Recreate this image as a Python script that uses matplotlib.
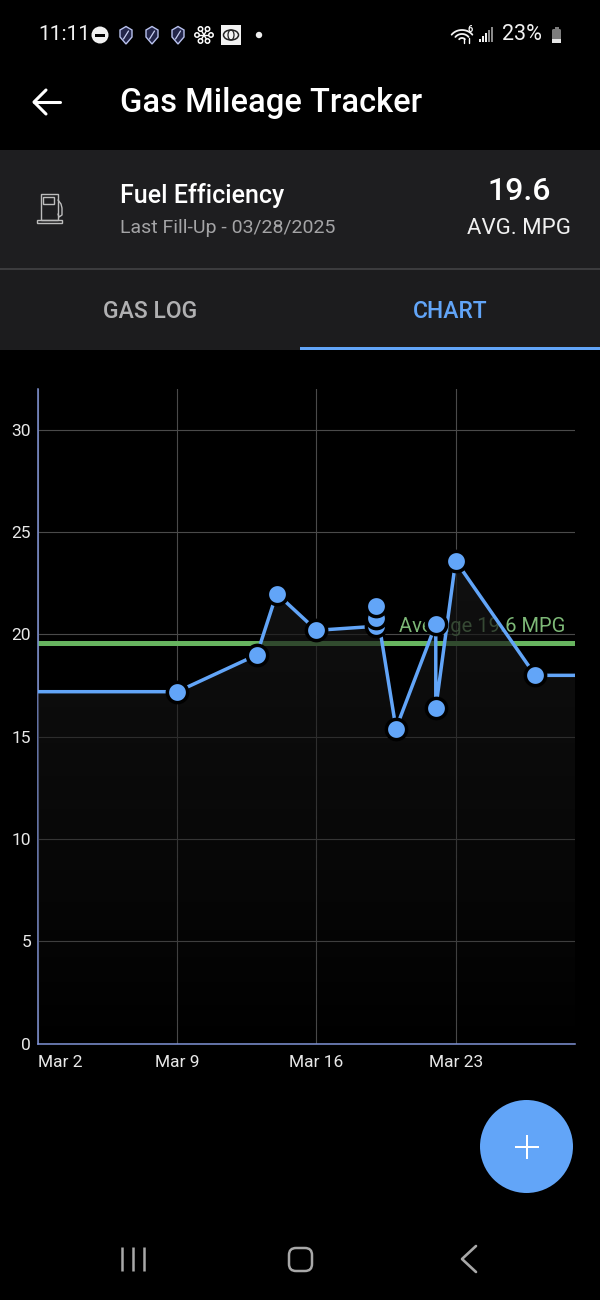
import matplotlib
matplotlib.use("Agg")
import matplotlib.pyplot as plt
import matplotlib.dates as mdates
import numpy as np
import pandas as pd
from matplotlib.patches import Circle, Rectangle, FancyBboxPatch, Polygon, RegularPolygon
from matplotlib.lines import Line2D

# ---- data ----
fill_dates = ["2025-03-02", "2025-03-09", "2025-03-13", "2025-03-14", "2025-03-16",
              "2025-03-19", "2025-03-19", "2025-03-19", "2025-03-20", "2025-03-22",
              "2025-03-22", "2025-03-23", "2025-03-27", "2025-03-29"]
mpg = [17.2, 17.2, 19.0, 22.0, 20.2, 20.4, 20.8, 21.4, 15.4, 20.5, 16.4, 23.6, 18.0, 18.0]
average_mpg = 19.6
y_ticks = [0, 5, 10, 15, 20, 25, 30]
x_tick_dates = ["2025-03-02", "2025-03-09", "2025-03-16", "2025-03-23"]
x_tick_labels = ["Mar 2", "Mar 9", "Mar 16", "Mar 23"]
marker_slice = (1, -1)   # first and last entries continue off-screen, no marker

plt.rcParams['font.family'] = ['Roboto', 'DejaVu Sans']
BLUE = "#62a5f8"
fig = plt.figure(figsize=(6, 13), dpi=100, facecolor="black")

# ---- phone UI layer in pixel coordinates ----
ui = fig.add_axes([0, 0, 1, 1], zorder=1)
ui.set_xlim(0, 600); ui.set_ylim(1300, 0); ui.axis("off")

def T(x, y, s, size, color="white", ha="left", weight="normal", **k):
    return ui.text(x, y, s, fontsize=size, color=color, ha=ha, va="center", fontweight=weight, **k)

def L(xs, ys, color="white", lw=1.5, **k):
    ui.add_line(Line2D(xs, ys, color=color, lw=lw, solid_capstyle=k.pop("cap", "round"),
                       solid_joinstyle="round", **k))

# panels
ui.add_patch(Rectangle((0, 150), 600, 118, fc="#1e1e20", ec="none"))
ui.add_patch(Rectangle((0, 268), 600, 2, fc="#3c3c3e", ec="none"))
ui.add_patch(Rectangle((0, 270), 600, 80, fc="#1c1c1e", ec="none"))
ui.add_patch(Rectangle((300, 347), 300, 3, fc=BLUE, ec="none"))

# status bar
T(38, 35, "11:11", 15, color="#f2f2f2")
ui.add_patch(Circle((100, 35), 8.5, fc="#f0f0f0", ec="none"))
ui.add_patch(Rectangle((95, 33.5), 10, 3, fc="black", ec="none"))
for sx in (126, 152, 178):
    ui.add_patch(Polygon([(sx-6, 30), (sx, 26.5), (sx+6, 30), (sx+6, 37), (sx, 44), (sx-6, 37)],
                         closed=True, fc="#23264a", ec="#b9c2ee", lw=1))
    L([sx-2.5, sx+2.5], [39, 31], color="#c8cff2", lw=0.9)
cx, cy = 204, 35
for dx, dy in [(-7, 0), (7, 0), (-3.5, -6), (3.5, -6), (-3.5, 6), (3.5, 6)]:
    L([cx, cx+dx], [cy, cy+dy], color="white", lw=1)
    ui.add_patch(Circle((cx+dx, cy+dy), 2.2, fc="black", ec="white", lw=1.1, zorder=4))
ui.add_patch(Rectangle((221, 25), 20, 20, fc="#f2f2f2", ec="none"))
ui.add_patch(matplotlib.patches.Ellipse((231, 35), 15, 10, fc="none", ec="#222", lw=1.1))
ui.add_patch(matplotlib.patches.Ellipse((231, 35), 6, 10, fc="none", ec="#222", lw=0.9))
ui.add_patch(Circle((259, 35), 3.2, fc="#eeeeee", ec="none"))

# wifi / signal / battery
th = np.linspace(np.radians(215), np.radians(325), 20)
for r in (3, 7, 11):
    L(462 + r*1.15*np.cos(th)-0, 41 + r*np.sin(th), color="#f2f2f2", lw=1.3)
T(467, 30, "6", 6.5, weight="bold")
L([464, 464], [38, 43], lw=1); L([469, 469], [38, 43], lw=1)
for i, h in enumerate((3, 6, 9, 12, 15)):
    ui.add_patch(Rectangle((479 + i*3, 42-h), 2, h, fc="#f0f0f0" if i < 3 else "#8a8a8a", ec="none"))
T(502, 35, "23%", 15.5, color="#f2f2f2")
ui.add_patch(FancyBboxPatch((552, 29), 9, 14, boxstyle="round,pad=0,rounding_size=1.5", fc="#7c7c7c", ec="none"))
ui.add_patch(Rectangle((554.5, 27), 4, 2, fc="#7c7c7c", ec="none"))
ui.add_patch(Rectangle((552, 39), 9, 4, fc="#e6e6e6", ec="none"))

# toolbar
L([34, 60], [102, 102], lw=2.2)
L([46, 34, 46], [90, 102, 114], lw=2.2)
T(120, 103, "Gas Mileage Tracker", 23.5, weight="medium")

# header
T(120, 196, "Fuel Efficiency", 18, weight="medium")
T(120, 228, "Last Fill-Up - 03/28/2025", 14, color="#a4a4a6")
T(519.5, 191, "19.6", 23, ha="center", weight="medium")
T(519, 229, "AVG. MPG", 16, ha="center", color="#f0f0f0")

# pump icon
g = "#bdbdbd"
ui.add_patch(Rectangle((40.5, 194), 17, 26, fc="none", ec=g, lw=1))
ui.add_patch(Rectangle((43, 197), 11, 7, fc="none", ec=g, lw=1))
ui.add_patch(Rectangle((36.5, 220), 25, 2.5, fc="none", ec=g, lw=1))
L([58, 61, 62, 62, 59, 58], [200, 204, 208, 215, 217, 214], color=g, lw=1)

# tabs
T(150, 311, "GAS LOG", 16.5, ha="center", weight="medium", color="#b0b0b2")
T(450, 311, "CHART", 16.5, ha="center", weight="medium", color=BLUE)

# FAB
ui.add_patch(Circle((526.5, 1146.5), 46.5, fc=BLUE, ec="none"))
ui.add_patch(Rectangle((515, 1145.5), 24, 2.6, fc="white", ec="none"))
ui.add_patch(Rectangle((525.7, 1135), 2.6, 24, fc="white", ec="none"))

# nav bar
for x in (121.5, 132.5, 143.5):
    L([x, x], [1247, 1271], color="#a8a8a8", lw=1.8, cap="butt")
ui.add_patch(FancyBboxPatch((289, 1248), 23, 23, boxstyle="round,pad=0,rounding_size=7",
                            fc="none", ec="#a8a8a8", lw=1.8))
L([476, 462, 476], [1246, 1259, 1272], color="#a8a8a8", lw=1.9)

# ---- chart ----
W, H = 600, 1300
left, right, top, bottom = 38, 575, 389, 1043.5
ax = fig.add_axes([left/W, 1-bottom/H, (right-left)/W, (bottom-top)/H], zorder=2)
ax.patch.set_alpha(0)

dates = pd.to_datetime(fill_dates)
xnum = mdates.date2num(dates)
ax.set_xlim(xnum[0], xnum[-1])
ax.set_ylim(0, 32)

ax.set_yticks(y_ticks)
ax.set_xticks(mdates.date2num(pd.to_datetime(x_tick_dates)))
ax.set_xticklabels(x_tick_labels)
ax.grid(True, color="#4a4a4a", lw=0.8, zorder=0)
ax.set_axisbelow(True)
ax.tick_params(length=0, labelsize=12.5, colors="#e8e8e8")
ax.tick_params(axis="x", pad=8)
ax.tick_params(axis="y", pad=5)
ax.get_xticklabels()[0].set_ha("left")
for s in ("top", "right"):
    ax.spines[s].set_visible(False)
for s in ("left", "bottom"):
    ax.spines[s].set_color("#7f93d6")
    ax.spines[s].set_linewidth(1.1)

# average line + label, both beneath the area fill
ax.axhline(average_mpg, color="#67b45f", lw=3.6, zorder=2)
ax.text(mdates.date2num(pd.Timestamp("2025-03-28")) + 0.5, average_mpg + 0.3,
        f"Average {average_mpg} MPG", color="#7db877", fontsize=14.5, ha="right", va="bottom", zorder=2)

# gradient area
grad = np.zeros((256, 1, 4))
grad[..., :3] = 0.085
grad[..., 3] = np.linspace(0.72, 0.0, 256)[:, None] ** 0.8
vmax = max(mpg)
im = ax.imshow(grad, extent=[xnum[0], xnum[-1], 0, vmax], origin="upper", aspect="auto", zorder=3)
poly = Polygon(np.column_stack([np.r_[xnum, xnum[-1], xnum[0]], np.r_[mpg, 0, 0]]),
               closed=True, transform=ax.transData, fc="none", ec="none")
ax.add_patch(poly)
im.set_clip_path(poly)
ax.set_xlim(xnum[0], xnum[-1]); ax.set_ylim(0, 32)

# series
ax.plot(xnum, mpg, color=BLUE, lw=2.5, zorder=4, solid_joinstyle="miter")
a, b = marker_slice
ax.plot(xnum[a:b], mpg[a:b], ls="none", marker="o", ms=14.6, mfc=BLUE, mec="black", mew=2.5, zorder=5)

fig.savefig("out.png", dpi=100, facecolor="black")
